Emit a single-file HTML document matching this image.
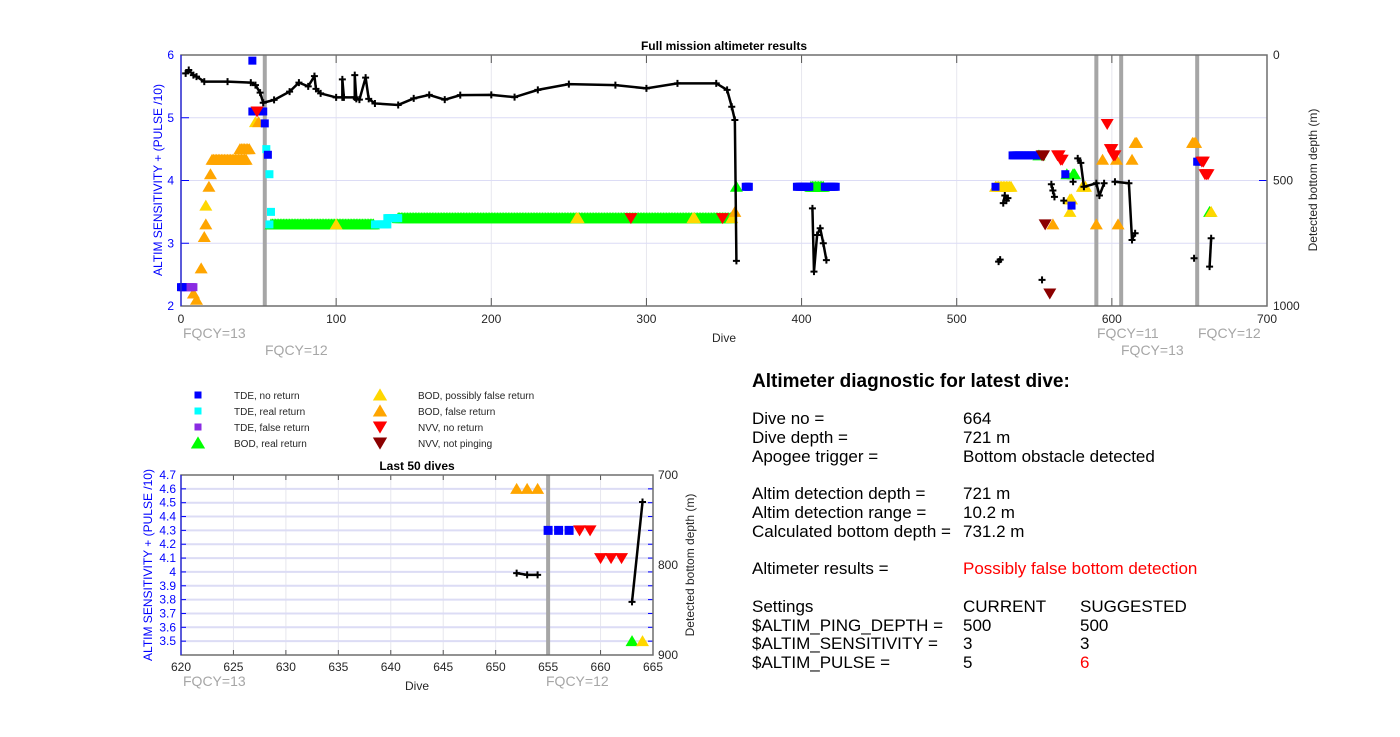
<!DOCTYPE html>
<html><head><meta charset="utf-8"><style>
html,body{margin:0;padding:0;background:#fff;}
svg{display:block;font-family:"Liberation Sans",sans-serif;}
</style></head><body>
<svg id="fig" width="1400" height="737" viewBox="0 0 1400 737" xmlns="http://www.w3.org/2000/svg">
<rect x="0" y="0" width="1400" height="737" fill="#fff"/>
<g id="main"></g>
<g id="bottom"></g>
<g id="legend"></g>
<g font-size="17" fill="#000">
<text x="752" y="387" font-size="19" font-weight="bold">Altimeter diagnostic for latest dive:</text>
<text x="752" y="424">Dive no =</text><text x="963" y="424">664</text>
<text x="752" y="443">Dive depth =</text><text x="963" y="443">721 m</text>
<text x="752" y="462">Apogee trigger =</text><text x="963" y="462">Bottom obstacle detected</text>
<text x="752" y="499">Altim detection depth =</text><text x="963" y="499">721 m</text>
<text x="752" y="518">Altim detection range =</text><text x="963" y="518">10.2 m</text>
<text x="752" y="537">Calculated bottom depth =</text><text x="963" y="537">731.2 m</text>
<text x="752" y="574">Altimeter results =</text><text x="963" y="574" fill="#ff0000">Possibly false bottom detection</text>
<text x="752" y="612">Settings</text><text x="963" y="612">CURRENT</text><text x="1080" y="612">SUGGESTED</text>
<text x="752" y="631">$ALTIM_PING_DEPTH =</text><text x="963" y="631">500</text><text x="1080" y="631">500</text>
<text x="752" y="649">$ALTIM_SENSITIVITY =</text><text x="963" y="649">3</text><text x="1080" y="649">3</text>
<text x="752" y="668">$ALTIM_PULSE =</text><text x="963" y="668">5</text><text x="1080" y="668" fill="#ff0000">6</text>
</g>
</svg>
<script>
// ---------- data: full mission ----------
const mainXTicks = [0,100,200,300,400,500,600,700];
const mainYTicks = [2,3,4,5,6];
const mainDepthTicks = [0,500,1000];
const mainFqcyDives = [54,590,606,655];
const mainTdeNo = [[0,1,2.3],[46,46,5.91],[46,53,5.1],[54,54,4.91],[56,56,4.41],[364,366,3.9],[397,405,3.9],[415,422,3.9],[525,525,3.9],[536,552,4.4],[570,570,4.1],[574,574,3.6],[655,656,4.3]];
const mainTdeReal = [[55,55,4.5],[57,57,4.1],[58,58,3.5],[57,57,3.3],[125,133,3.3],[133,140,3.4]];
const mainTdeFalse = [[2,8,2.3]];
const mainBodReal = [[58,124,3.3],[140,354,3.4],[358,358,3.9],[406,414,3.9],[553,553,4.4],[571,571,4.1],[575,576,4.1],[663,663,3.5]];
const mainBodPoss = [[16,16,3.6],[48,48,4.93],[40,40,4.5],[35,35,4.33],[100,100,3.3],[255,256,3.4],[330,331,3.4],[355,355,3.4],[525,535,3.9],[573,574,3.7],[573,573,3.5],[581,583,3.9],[664,664,3.5]];
const mainBodFalse = [[8,8,2.2],[10,10,2.1],[13,13,2.6],[15,15,3.1],[16,16,3.3],[18,18,3.9],[19,19,4.1],[20,42,4.33],[38,44,4.5],[50,50,4.93],[357,357,3.5],[562,562,3.3],[590,590,3.3],[594,594,4.33],[603,603,4.33],[604,604,3.3],[613,613,4.33],[615,616,4.6],[652,654,4.6]];
const mainNvvNo = [[49,49,5.1],[290,290,3.4],[349,349,3.4],[565,566,4.4],[567,568,4.33],[597,597,4.9],[599,600,4.5],[601,602,4.4],[658,659,4.3],[660,662,4.1]];
const mainNvvNot = [[555,556,4.4],[557,557,3.3],[560,560,2.2]];
const mainDepth = [
 [[3,73],[5,60],[8,80],[10,86],[15,106],[30,106],[45,110],[48,120],[51,150],[53,190],[60,179],[70,146],[76,110],[82,125],[86,84],[87,135],[90,153],[100,169],[104,169],[104,97],[105,169],[112,169],[112,80],[113,175],[115,178],[119,90],[121,175],[125,193],[140,199],[150,173],[160,159],[170,178],[180,160],[200,159],[215,168],[230,139],[250,116],[280,120],[300,133],[320,113],[345,113],[352,139],[355,206],[357,259],[358,820]],
 [[407,611],[408,863],[410,717],[412,690],[414,750],[416,817]],
 [[527,823],[528,815]],
 [[530,590],[531,560],[533,570],[532,580]],
 [[555,896]],
 [[561,515],[562,540],[563,565]],
 [[569,580]],
 [[575,505]],
 [[578,412],[580,430],[582,525],[590,511],[592,560],[595,511]],
 [[602,505],[611,511],[613,737],[615,710]],
 [[653,810]],
 [[663,843],[664,730]]
];
// ---------- data: last 50 dives ----------
const bXTicks = [620,625,630,635,640,645,650,655,660,665];
const bYTicks = [3.5,3.6,3.7,3.8,3.9,4,4.1,4.2,4.3,4.4,4.5,4.6,4.7];
const bDepthTicks = [700,800,900];
const bFqcyDives = [655];
const bTdeNo = [[655,657,4.3]];
const bBodReal = [[663,663,3.5]];
const bBodPoss = [[664,664,3.5]];
const bBodFalse = [[652,654,4.6]];
const bNvvNo = [[658,659,4.3],[660,662,4.1]];
const bDepth = [[[652,809],[653,811],[654,811]],[[663,841],[664,730]]];

const NS="http://www.w3.org/2000/svg";
function mk(parent,tag,attrs){const e=document.createElementNS(NS,tag);for(const k in attrs)e.setAttribute(k,attrs[k]);parent.appendChild(e);return e;}
const COL={tdeNo:"#0000ff",tdeReal:"#00ffff",tdeFalse:"#8a2be2",bodReal:"#00ff00",bodPoss:"#ffd700",bodFalse:"#ffa500",nvvNo:"#ff0000",nvvNot:"#8b0000"};
function marker(g,type,x,y,s){
  let e;
  if(type.startsWith("tde")){e=mk(g,"rect",{x:x-s/2,y:y-s/2,width:s,height:s,fill:COL[type]});}
  else if(type.startsWith("bod")){e=mk(g,"polygon",{points:`${x-s*0.65},${y+s*0.5} ${x+s*0.65},${y+s*0.5} ${x},${y-s*0.6}`,fill:COL[type]});}
  else {e=mk(g,"polygon",{points:`${x-s*0.65},${y-s*0.5} ${x+s*0.65},${y-s*0.5} ${x},${y+s*0.6}`,fill:COL[type]});}
  
  
  return e;
}
function drawRuns(g,runs,type,X,Y,s){
  runs.forEach(r=>{for(let d=r[0];d<=r[1];d++){marker(g,type,X(d),Y(r[2]),s);}});
}
function drawDepth(g,segs,X,Y){
  segs.forEach(seg=>{
    const pts=seg.map(p=>X(p[0])+","+Y(p[1])).join(" ");
    if(seg.length>1){const pl=mk(g,"polyline",{points:pts,fill:"none",stroke:"#000","stroke-width":2.5});
      
      }
    seg.forEach(p=>{const x=X(p[0]),y=Y(p[1]);
      const pm=mk(g,"path",{d:`M${x-3.5},${y}H${x+3.5}M${x},${y-3.5}V${y+3.5}`,stroke:"#000","stroke-width":2});
      
      });
  });
}
function text(g,x,y,str,attrs,name){const t=mk(g,"text",Object.assign({x:x,y:y},attrs));t.textContent=str;
  
  return t;}

// ---------- main chart ----------
(function(){
  const g=document.getElementById("main");
  const L=181,R=1267,T=55,B=306;
  const X=d=>L+d*(R-L)/700, Y=v=>T+(6-v)*(B-T)/4, YD=m=>T+m*(B-T)/1000;
  mk(g,"rect",{x:L,y:T,width:R-L,height:B-T,fill:"#fff"});
  mainXTicks.forEach(t=>{if(t>0&&t<700){const l=mk(g,"line",{x1:X(t),x2:X(t),y1:T,y2:B,stroke:"#e6e6ee","stroke-width":1});
    
    }
    text(g,X(t),323,t,{"font-size":12,"text-anchor":"middle",fill:"#262626"},"x-tick-label");
    mk(g,"line",{x1:X(t),x2:X(t),y1:B,y2:B-8,stroke:"#555"});mk(g,"line",{x1:X(t),x2:X(t),y1:T,y2:T+8,stroke:"#555"});});
  mainYTicks.forEach(t=>{if(t>2&&t<6){const l=mk(g,"line",{x1:L,x2:R,y1:Y(t),y2:Y(t),stroke:"#dcdcf5","stroke-width":1});
    
    }
    text(g,L-7,Y(t)+4,t,{"font-size":12,"text-anchor":"end",fill:"#0000ff"},"y-tick-label");
    mk(g,"line",{x1:L,x2:L+8,y1:Y(t),y2:Y(t),stroke:"#0000ff"});});
  mainDepthTicks.forEach(t=>{text(g,R+6,YD(t)+4,t,{"font-size":12,fill:"#262626"},"depth-tick-label");
    mk(g,"line",{x1:R,x2:R-8,y1:YD(t),y2:YD(t),stroke:"#0000ff"});});
  mainFqcyDives.forEach(d=>{const l=mk(g,"line",{x1:X(d),x2:X(d),y1:T,y2:B,stroke:"#a6a6a6","stroke-width":4});
    
    });
  const s=8;
  drawRuns(g,mainBodReal,"bodReal",X,Y,s+2);
  drawRuns(g,mainBodPoss,"bodPoss",X,Y,s+2);
  drawRuns(g,mainBodFalse,"bodFalse",X,Y,s+2);
  drawRuns(g,mainTdeReal,"tdeReal",X,Y,s);
  drawRuns(g,mainTdeFalse,"tdeFalse",X,Y,s);
  drawRuns(g,mainTdeNo,"tdeNo",X,Y,s);
  drawRuns(g,mainNvvNo,"nvvNo",X,Y,s+2);
  drawRuns(g,mainNvvNot,"nvvNot",X,Y,s+2);
  drawDepth(g,mainDepth,X,YD);
  mk(g,"rect",{x:L,y:T,width:R-L,height:B-T,fill:"none",stroke:"#6e6e6e","stroke-width":1.5});
  mk(g,"line",{x1:L,x2:L,y1:T,y2:B,stroke:"#0000ff","stroke-width":1});
  text(g,724,50,"Full mission altimeter results",{"font-size":12,"font-weight":"bold","text-anchor":"middle"},"main-chart-title");
  text(g,724,342,"Dive",{"font-size":12,"text-anchor":"middle",fill:"#262626"},"x-axis-title");
  text(g,0,0,"ALTIM SENSITIVITY + (PULSE /10)",{"font-size":12,"text-anchor":"middle",fill:"#0000ff",transform:"translate(162,180) rotate(-90)"},"y-axis-title");
  text(g,0,0,"Detected bottom depth (m)",{"font-size":12,"text-anchor":"middle",fill:"#262626",transform:"translate(1317,180) rotate(-90)"},"depth-axis-title");
  const fq=[[183,338,"FQCY=13"],[265,355,"FQCY=12"],[1097,338,"FQCY=11"],[1121,355,"FQCY=13"],[1198,338,"FQCY=12"]];
  fq.forEach(f=>text(g,f[0],f[1],f[2],{"font-size":14,fill:"#a6a6a6"},"fqcy-label"));
})();

// ---------- bottom chart ----------
(function(){
  const g=document.getElementById("bottom");
  const L=181,R=653,T=475,B=655;
  const X=d=>L+(d-620)*(R-L)/45, Y=v=>T+(4.7-v)*(B-T)/1.3, YD=m=>T+(m-700)*(B-T)/200;
  bXTicks.forEach(t=>{if(t>620&&t<665){const l=mk(g,"line",{x1:X(t),x2:X(t),y1:T,y2:B,stroke:"#e6e6ee"});
    
    }
    text(g,X(t),671,t,{"font-size":12,"text-anchor":"middle",fill:"#262626"},"x-tick-label");
    mk(g,"line",{x1:X(t),x2:X(t),y1:B,y2:B-5,stroke:"#555"});mk(g,"line",{x1:X(t),x2:X(t),y1:T,y2:T+5,stroke:"#555"});});
  bYTicks.forEach(t=>{if(t<4.7){const l=mk(g,"line",{x1:L,x2:R,y1:Y(t),y2:Y(t),stroke:"#dcdcf5","stroke-width":2});
    
    }
    text(g,L-5,Y(t)+4,t,{"font-size":12,"text-anchor":"end",fill:"#0000ff"},"y-tick-label");
    mk(g,"line",{x1:L,x2:L+5,y1:Y(t),y2:Y(t),stroke:"#0000ff"});mk(g,"line",{x1:R,x2:R-5,y1:Y(t),y2:Y(t),stroke:"#0000ff"});});
  bDepthTicks.forEach(t=>text(g,R+5,YD(t)+4,t,{"font-size":12,fill:"#262626"},"depth-tick-label"));
  bFqcyDives.forEach(d=>{const l=mk(g,"line",{x1:X(d),x2:X(d),y1:T,y2:B,stroke:"#a6a6a6","stroke-width":4});
    
    });
  const s=9;
  drawRuns(g,bBodReal,"bodReal",X,Y,s+1);
  drawRuns(g,bBodPoss,"bodPoss",X,Y,s+1);
  drawRuns(g,bBodFalse,"bodFalse",X,Y,s+1);
  drawRuns(g,bTdeNo,"tdeNo",X,Y,s);
  drawRuns(g,bNvvNo,"nvvNo",X,Y,s+1);
  drawDepth(g,bDepth,X,YD);
  mk(g,"rect",{x:L,y:T,width:R-L,height:B-T,fill:"none",stroke:"#6e6e6e","stroke-width":1.5});
  mk(g,"line",{x1:L,x2:L,y1:T,y2:B,stroke:"#0000ff"});
  text(g,417,470,"Last 50 dives",{"font-size":12,"font-weight":"bold","text-anchor":"middle"},"bottom-chart-title");
  text(g,417,690,"Dive",{"font-size":12,"text-anchor":"middle",fill:"#262626"},"x-axis-title");
  text(g,0,0,"ALTIM SENSITIVITY + (PULSE /10)",{"font-size":12,"text-anchor":"middle",fill:"#0000ff",transform:"translate(152,565) rotate(-90)"},"y-axis-title");
  text(g,0,0,"Detected bottom depth (m)",{"font-size":12,"text-anchor":"middle",fill:"#262626",transform:"translate(694,565) rotate(-90)"},"depth-axis-title");
  text(g,183,686,"FQCY=13",{"font-size":14,fill:"#a6a6a6"},"fqcy-label");
  text(g,546,686,"FQCY=12",{"font-size":14,fill:"#a6a6a6"},"fqcy-label");
})();

// ---------- legend ----------
(function(){
  const g=document.getElementById("legend");
  const legendTypes=["tdeNo","tdeReal","tdeFalse","bodReal","bodPoss","bodFalse","nvvNo","nvvNot"];
  const legendLabels=["TDE, no return","TDE, real return","TDE, false return","BOD, real return","BOD, possibly false return","BOD, false return","NVV, no return","NVV, not pinging"];
  legendTypes.forEach((t,i)=>{
    const col=Math.floor(i/4),row=i%4;
    const y=395+row*16;
    marker(g,t,col?380:198,y,t.startsWith("tde")?7:11);
    text(g,col?418:234,y+4,legendLabels[i],{"font-size":10,fill:"#262626"},"legend-label");
  });
})();
</script>
</body></html>
